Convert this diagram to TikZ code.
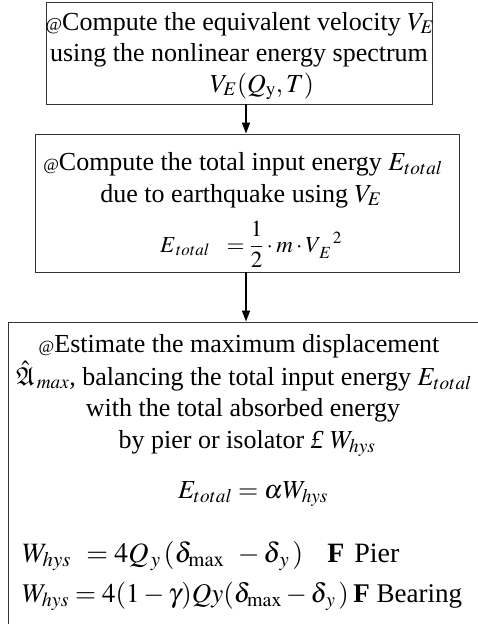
\documentclass[tikz,border=0pt]{standalone}
\usepackage{amsmath, amssymb}
\usepackage{mathptmx}
\usepackage{fontspec}
\setmainfont{Liberation Serif}
\usetikzlibrary{arrows.meta, positioning}

\tikzset{
  framebox/.style={draw=black!80, line width=0.9pt, inner sep=0pt},
  txt/.style={anchor=base, inner sep=0pt, text height=18pt, text depth=6pt,
    font=\fontsize{26}{30}\selectfont},
  eqn/.style={anchor=base west, inner sep=0pt, text height=20pt, text depth=7pt,
    font=\fontsize{28}{32}\selectfont},
  flow/.style={->, line width=1.6pt}
}
\newcommand{\atmark}{{\fontsize{17}{17}\selectfont @}}

\begin{document}
\begin{tikzpicture}[x=1pt, y=-1pt, >={Stealth[inset=0pt, length=11pt, width=8pt]}]
    \useasboundingbox (0,0) rectangle (478,624);

    % =================================================================
    % 1. CAC KHUNG
    % =================================================================
    \node[framebox, minimum width=386pt, minimum height=102pt] (box1) at (239,53) {};
    \node[framebox, minimum width=424pt, minimum height=138pt] (box2) at (247,203) {};
    \node[framebox, minimum width=482pt, minimum height=320pt] (box3) at (249,482) {};
    \coordinate (axis) at (246,0);

    % =================================================================
    % 2. KHUNG 1
    % =================================================================
    \node[txt] (t11) at (240,30) {{\fontsize{18}{18}\selectfont @}Compute the equivalent velocity $V_E$};
    \node[txt] (t12) at (239,61) {using the nonlinear energy spectrum};
    \node[txt] (t13) at (262,92) {$V_E(Q_{\mathrm{y}},T)$};

    % =================================================================
    % 3. KHUNG 2
    % =================================================================
    \node[txt] (t21) at (243,170) {\atmark Compute the total input energy $E_{total}$};
    \node[txt] (t22) at (241,202) {due to earthquake using $V_E$};
    \node[txt, font=\fontsize{23}{27}\selectfont] (t23) at (251,252)
        {$E_{\,total}\ \ = \dfrac{1}{2}\cdot m\cdot V_{\,E}^{\ \ 2}$};

    % =================================================================
    % 4. KHUNG 3
    % =================================================================
    \node[txt] (t31) at (239,352) {\atmark Estimate the maximum displacement};
    \node[txt] (t32) at (244,385) {$\hat{\mathfrak{A}}_{\,max}$, balancing the total input energy $E_{total}$};
    \node[txt] (t33) at (243,416) {with the total absorbed energy};
    \node[txt] (t34) at (247,448) {by pier or isolator \textit{\pounds}\ $W_{hys}$};
    \node[txt] (t35) at (253,498) {$E_{total} = \alpha W_{hys}$};
    \node[eqn] (t36) at (22,562) {$W_{hys}\;\, = 4Q_{\,y}\,(\delta_{\mathrm{max}}\;\, - \delta_{\,y}\,)$\hspace{24pt}\textbf{F}\hspace{10pt}Pier};
    \node[eqn, font=\fontsize{27}{32}\selectfont] (t37) at (22,602) {$W_{hys} = 4(1-\gamma)Qy(\delta_{\mathrm{max}} -\delta_{\,y}\,)$\,\textbf{F} Bearing};

    % =================================================================
    % 5. MUI TEN
    % =================================================================
    \draw[flow] (box1.south -| axis) -- (box2.north -| axis);
    \draw[flow] (box2.south -| axis) -- (box3.north -| axis);

\end{tikzpicture}
\end{document}
